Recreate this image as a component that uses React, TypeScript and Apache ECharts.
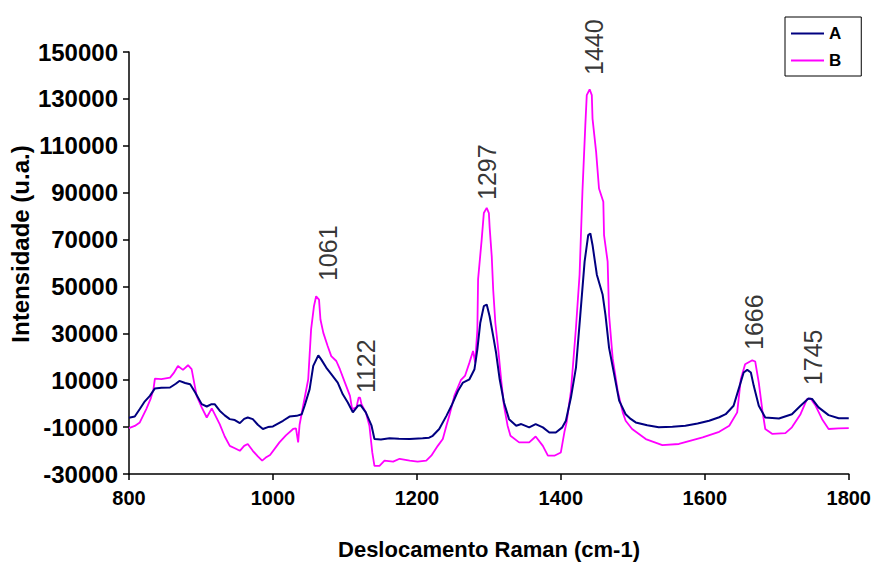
import React, { useEffect, useRef } from "react";
import * as echarts from "echarts";

const seriesNames = ["A", "B"];

const ramanA: number[] = [800, 808, 815, 822, 829, 836, 845, 857, 865, 870, 878, 885, 892, 901, 908, 914, 919, 926, 933, 940, 947, 954, 960, 965, 972, 979, 986, 993, 1000, 1007, 1014, 1023, 1033, 1040, 1044, 1051, 1056, 1063, 1067, 1074, 1081, 1090, 1097, 1104, 1111, 1118, 1122, 1129, 1137, 1141, 1150, 1162, 1175, 1190, 1208, 1217, 1222, 1231, 1241, 1248, 1257, 1264, 1273, 1280, 1284, 1288, 1293, 1297, 1301, 1306, 1310, 1315, 1321, 1328, 1338, 1345, 1356, 1365, 1375, 1384, 1393, 1402, 1407, 1414, 1421, 1427, 1433, 1438, 1441, 1444, 1450, 1458, 1462, 1467, 1474, 1481, 1490, 1497, 1504, 1520, 1536, 1555, 1573, 1590, 1606, 1620, 1629, 1640, 1647, 1654, 1659, 1664, 1668, 1675, 1684, 1703, 1721, 1733, 1744, 1749, 1758, 1772, 1786, 1800];
const intensA: number[] = [-6000, -5500, -2300, 1000, 3300, 6500, 6800, 6900, 8500, 9700, 8800, 8300, 4800, -200, -1200, -300, -200, -3000, -5000, -6600, -7000, -8300, -6500, -5900, -6600, -9000, -10800, -10000, -9700, -8500, -7300, -5500, -5200, -4500, -900, 6200, 16100, 20600, 18900, 15400, 12600, 9000, 4000, 500, -3700, -900, -700, -3700, -9400, -15100, -15300, -14800, -15000, -15100, -14800, -14500, -13700, -10800, -5200, -900, 5400, 9000, 10400, 14700, 23200, 34400, 41600, 42300, 37300, 28800, 21700, 10400, 500, -6600, -9400, -8700, -10100, -8700, -10100, -12300, -12300, -10100, -7300, 2600, 15400, 37800, 60600, 71900, 72600, 67700, 55000, 46600, 37800, 23800, 12600, 1300, -4500, -6500, -8000, -9200, -10100, -9800, -9400, -8500, -7300, -5800, -4500, -900, 6200, 13300, 14400, 13300, 7600, -900, -5900, -6300, -4500, -900, 2200, 2000, -1600, -4900, -6200, -6200];

const ramanB: number[] = [800, 808, 815, 824, 830, 834, 836, 845, 857, 862, 868, 875, 882, 887, 894, 901, 908, 915, 926, 933, 940, 947, 954, 960, 965, 972, 979, 985, 990, 996, 1009, 1018, 1028, 1032, 1035, 1037, 1042, 1049, 1053, 1057, 1060, 1064, 1066, 1070, 1076, 1081, 1088, 1093, 1100, 1107, 1110, 1116, 1119, 1121, 1123, 1129, 1134, 1138, 1141, 1148, 1155, 1167, 1176, 1190, 1201, 1213, 1220, 1229, 1236, 1241, 1245, 1252, 1261, 1267, 1273, 1278, 1281, 1284, 1285, 1290, 1293, 1297, 1300, 1301, 1304, 1306, 1309, 1313, 1317, 1321, 1326, 1330, 1342, 1356, 1365, 1375, 1382, 1391, 1400, 1405, 1408, 1414, 1421, 1426, 1430, 1434, 1436, 1440, 1443, 1444, 1449, 1453, 1459, 1460, 1465, 1467, 1472, 1479, 1486, 1490, 1499, 1518, 1541, 1564, 1597, 1620, 1634, 1645, 1650, 1656, 1666, 1670, 1675, 1680, 1684, 1694, 1712, 1721, 1733, 1742, 1747, 1754, 1763, 1772, 1786, 1800];
const intensB: number[] = [-10400, -9500, -8000, -2300, 2000, 6200, 10700, 10500, 11100, 13000, 16100, 14400, 16400, 14700, 3300, -1600, -5900, -2000, -8700, -14000, -18000, -19000, -20100, -18000, -17200, -20100, -22500, -24300, -23000, -21900, -16500, -13500, -10800, -10500, -16500, -9000, -900, 10400, 31700, 41600, 45800, 44400, 35900, 30200, 24600, 20300, 18200, 14700, 9000, 3300, -2300, -1600, 2600, 2600, -200, -3700, -9400, -20800, -26500, -26500, -24300, -24700, -23500, -24300, -24700, -24300, -22200, -18000, -15100, -9400, -5200, 3300, 10000, 12000, 17500, 22500, 17500, 31700, 53000, 70000, 81300, 83500, 81300, 75500, 62700, 48600, 34400, 23200, 10400, -900, -9400, -13700, -16500, -16500, -14000, -18000, -22200, -22200, -20800, -12000, -8000, 5400, 32400, 55000, 90500, 118800, 131600, 134100, 131600, 121600, 107400, 91800, 86100, 71900, 60600, 37800, 19300, 5400, -3700, -7300, -10800, -15100, -17700, -17200, -14400, -12000, -9400, -3700, 10400, 16800, 18500, 18000, 9000, -3000, -10800, -12900, -12600, -10100, -4500, 1900, 2200, -900, -6600, -10800, -10500, -10400];

const peakLabels: string[] = ["1061", "1122", "1297", "1440", "1666", "1745"];
const peakLabelX: number[] = [1076, 1129, 1298, 1446, 1668, 1750];
const peakLabelY: number[] = [52300, 4500, 86900, 140200, 22900, 7900];

const yTickValues: number[] = [-30000, -10000, 10000, 30000, 50000, 70000, 90000, 110000, 130000, 150000];
const xAxisTitle = "Deslocamento Raman (cm-1)";
const yAxisTitle = "Intensidade (u.a.)";

const FONT = '"Liberation Sans", Arial, sans-serif';
const LEGEND_ICON = "path://M0,0L33,0L33,2L0,2Z";

export default function App() {
  const ref = useRef<HTMLDivElement>(null);
  useEffect(() => {
    if (!ref.current) return;
    const chart = echarts.init(ref.current, null, { renderer: "svg" });
    const dataA = ramanA.map((x, i) => [x, intensA[i]]);
    const dataB = ramanB.map((x, i) => [x, intensB[i]]);
    const annot = peakLabels.map((t, i) => ({ name: t, value: [peakLabelX[i], peakLabelY[i]] }));
    chart.setOption({
      animation: false,
      backgroundColor: "#ffffff",
      grid: { left: 129, right: 24, top: 52, bottom: 89 },
      legend: {
        data: seriesNames.map((n) => ({ name: n, icon: LEGEND_ICON })),
        orient: "vertical",
        left: 785,
        top: 17,
        padding: [8, 20, 7, 6],
        itemWidth: 33,
        itemHeight: 16,
        itemGap: 10,
        symbolKeepAspect: true,
        borderColor: "#000",
        borderWidth: 1,
        backgroundColor: "#fff",
        textStyle: { fontFamily: FONT, fontWeight: "bold", fontSize: 17, color: "#000" },
      },
      xAxis: {
        type: "value",
        min: 800,
        max: 1800,
        interval: 200,
        splitLine: { show: false },
        axisLine: { onZero: false, lineStyle: { color: "#000", width: 1.5 } },
        axisTick: { length: 6, lineStyle: { color: "#000", width: 1.5 } },
        axisLabel: { fontFamily: FONT, fontWeight: "bold", fontSize: 20, color: "#000", margin: 14, formatter: (v: number) => String(v) },
      },
      yAxis: {
        type: "value",
        min: -30000,
        max: 150000,
        interval: 10000,
        splitLine: { show: false },
        axisLine: { onZero: false, lineStyle: { color: "#000", width: 1.5 } },
        axisTick: { length: 6, customValues: yTickValues, lineStyle: { color: "#000", width: 1.5 } },
        axisLabel: { customValues: yTickValues, fontFamily: FONT, fontWeight: "bold", fontSize: 24, color: "#000", margin: 11, formatter: (v: number) => String(v) },
      },
      graphic: [
        {
          type: "text",
          x: 20,
          y: 244,
          rotation: Math.PI / 2,
          style: { text: yAxisTitle, fontFamily: FONT, fontWeight: "bold", fontSize: 24, fill: "#000", align: "center", verticalAlign: "middle" },
        },
        {
          type: "text",
          x: 489,
          y: 549,
          style: { text: xAxisTitle, fontFamily: FONT, fontWeight: "bold", fontSize: 22, fill: "#000", align: "center", verticalAlign: "middle" },
        },
      ],
      series: [
        {
          name: "A",
          type: "line",
          data: dataA,
          symbol: "none",
          lineStyle: { color: "#000080", width: 2 },
          itemStyle: { color: "#000080" },
          z: 3,
        },
        {
          name: "B",
          type: "line",
          data: dataB,
          symbol: "none",
          lineStyle: { color: "#ff00ff", width: 1.8 },
          itemStyle: { color: "#ff00ff" },
          z: 2,
        },
        {
          name: "peaks",
          type: "scatter",
          data: annot,
          symbolSize: 0,
          silent: true,
          label: {
            show: true,
            formatter: "{b}",
            position: "inside",
            rotate: 90,
            align: "left",
            verticalAlign: "middle",
            fontFamily: FONT,
            fontSize: 25,
            color: "#000",
          },
          z: 4,
        },
      ],
    });
    return () => chart.dispose();
  }, []);
  return <div ref={ref} style={{ position: "fixed", left: 0, top: 0, width: 874, height: 563 }} />;
}
